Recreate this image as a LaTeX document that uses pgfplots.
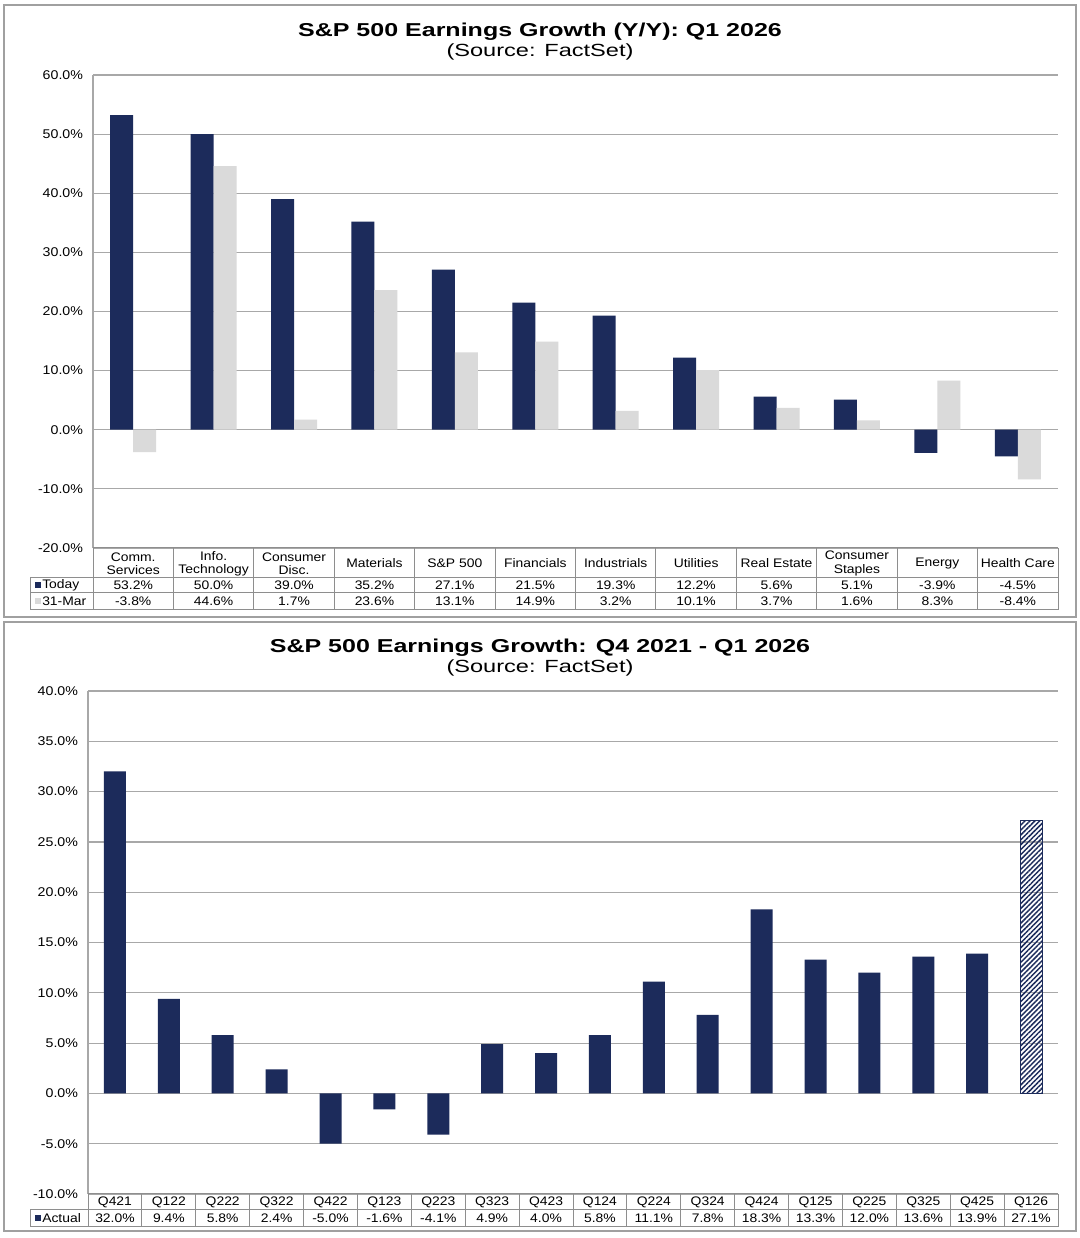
\documentclass[border=0pt]{standalone}
\usepackage{fontspec}
\setmainfont{Liberation Sans}[FakeStretch=1.12]
\newfontfamily\titlefont{Liberation Sans}[FakeStretch=1.34]
\usepackage{pgfplots}
\pgfplotsset{compat=1.18}
\usepackage{pgfplotstable}
\usetikzlibrary{patterns.meta}

\definecolor{navy}{HTML}{1C2B5B}
\definecolor{lgray}{HTML}{DADADA}
\definecolor{gridc}{HTML}{A8A8A8}
\definecolor{tabc}{HTML}{8E8E8E}
\definecolor{framec}{HTML}{A0A0A0}

% sector growth, today vs 31-Mar
\pgfplotstableread{
x today mar
0 53.2 -3.8
1 50.0 44.6
2 39.0 1.7
3 35.2 23.6
4 27.1 13.1
5 21.5 14.9
6 19.3 3.2
7 12.2 10.1
8 5.6 3.7
9 5.1 1.6
10 -3.9 8.3
11 -4.5 -8.4
}\sectors

% quarterly actual growth
\pgfplotstableread{
x actual
0 32.0
1 9.4
2 5.8
3 2.4
4 -5.0
5 -1.6
6 -4.1
7 4.9
8 4.0
9 5.8
10 11.1
11 7.8
12 18.3
13 13.3
14 12.0
15 13.6
16 13.9
17 27.1
}\quarters

\pgfplotsset{
  panel/.style={
    scale only axis,
    anchor=south west,
    axis y line*=left,
    axis x line=none,
    axis line style={draw=gridc, line width=0.9pt},
    ymajorgrids,
    grid style={draw=gridc, line width=0.9pt},
    major tick length=0pt,
    xtick=\empty,
    /pgf/number format/assume math mode=true,
    yticklabel={\pgfmathprintnumber[fixed,fixed zerofill,precision=1]{\tick}\%},
    yticklabel style={font=\fontsize{9.5}{11}\selectfont, xshift=-4pt},
    clip=false,
  },
}

\begin{document}
\begin{tikzpicture}
\path[use as bounding box, fill=white] (0,0) rectangle (810pt,928.5pt);

\begin{axis}[panel,
  at={(69.75pt,517.5pt)},
  width=723.75pt, height=354.75pt,
  xmin=-0.5, xmax=11.5,
  ymin=-20, ymax=60, ytick={-20,-10,...,60},
  ybar=0pt, bar width=17.25pt,
]
\addplot[fill=navy, draw=none] table[x=x, y=today] {\sectors};
\addplot[fill=lgray, draw=none] table[x=x, y=mar] {\sectors};
\end{axis}

\begin{axis}[panel,
  at={(66pt,33pt)},
  width=727.5pt, height=377.25pt,
  xmin=-0.5, xmax=17.5,
  ymin=-10, ymax=40, ytick={-10,-5,...,40},
  ybar, bar width=16.5pt,
]
\addplot[fill=navy, draw=none, bar shift=0pt, restrict x to domain=0:16] table[x=x, y=actual] {\quarters};
\addplot[pattern={Lines[angle=45, distance=2.6pt, line width=1.1pt]}, pattern color=navy, draw=navy, line width=0.5pt, bar shift=0pt, restrict x to domain=17:17] table[x=x, y=actual] {\quarters};
\end{axis}

% frames, titles and data tables in pixel units
\begin{scope}[x=0.75pt, y=-0.75pt, yshift=928.5pt]
\draw[framec, line width=1.4pt] (4,5) rectangle (1076,617);
\draw[framec, line width=1.4pt] (4,622) rectangle (1076,1231);

\node[anchor=base, font=\titlefont\bfseries\fontsize{14}{16}\selectfont] at (540,37) {S\&P 500 Earnings Growth (Y/Y): Q1 2026};
\node[anchor=base, font=\titlefont\fontsize{13.2}{15}\selectfont] at (540,56.5) {(Source: FactSet)};
\node[anchor=base, font=\titlefont\bfseries\fontsize{14}{16}\selectfont] at (540,653) {S\&P 500 Earnings Growth: Q4 2021 - Q1 2026};
\node[anchor=base, font=\titlefont\fontsize{13.2}{15}\selectfont] at (540,672.5) {(Source: FactSet)};

% table 1
\begin{scope}[tabc, line width=0.75pt]
\draw (93,548) -- (1058,548);
\draw (30,578) -- (1058,578);
\draw (30,593) -- (1058,593);
\draw (30,610) -- (1058,610);
\draw (30,578) -- (30,610);
\foreach \i in {0,...,12} \draw ({93+\i*80.4167},548) -- ({93+\i*80.4167},610);
\end{scope}
\begin{scope}[font=\fontsize{9.3}{9.9}\selectfont, text=black]
\foreach \lab [count=\i from 0] in {{Comm.\\Services},{Info.\\Technology},{Consumer\\Disc.},Materials,S\&P 500,Financials,Industrials,Utilities,Real Estate,{Consumer\\Staples},Energy,Health Care}
  \node[align=center, inner sep=0pt] at ({93+(\i+0.5)*80.4167},563.5) {\lab};
\foreach \v [count=\i from 0] in {53.2,50.0,39.0,35.2,27.1,21.5,19.3,12.2,5.6,5.1,-3.9,-4.5}
  \node[inner sep=0pt] at ({93+(\i+0.5)*80.4167},585.5) {\v\%};
\foreach \v [count=\i from 0] in {-3.8,44.6,1.7,23.6,13.1,14.9,3.2,10.1,3.7,1.6,8.3,-8.4}
  \node[inner sep=0pt] at ({93+(\i+0.5)*80.4167},601.5) {\v\%};
\fill[navy] (35,582.5) rectangle (41,588.5);
\node[anchor=west, inner sep=0pt] at (42,585.5) {Today};
\fill[lgray] (35,598.5) rectangle (41,604.5);
\node[anchor=west, inner sep=0pt] at (42,601.5) {31-Mar};
\end{scope}

% table 2
\begin{scope}[tabc, line width=0.75pt]
\draw (88,1194) -- (1058,1194);
\draw (30,1210) -- (1058,1210);
\draw (30,1227) -- (1058,1227);
\draw (30,1210) -- (30,1227);
\foreach \i in {0,...,18} \draw ({88+\i*53.8889},1194) -- ({88+\i*53.8889},1227);
\end{scope}
\begin{scope}[font=\fontsize{9.3}{9.9}\selectfont, text=black]
\foreach \lab [count=\i from 0] in {Q421,Q122,Q222,Q322,Q422,Q123,Q223,Q323,Q423,Q124,Q224,Q324,Q424,Q125,Q225,Q325,Q425,Q126}
  \node[inner sep=0pt] at ({88+(\i+0.5)*53.8889},1202) {\lab};
\foreach \v [count=\i from 0] in {32.0,9.4,5.8,2.4,-5.0,-1.6,-4.1,4.9,4.0,5.8,11.1,7.8,18.3,13.3,12.0,13.6,13.9,27.1}
  \node[inner sep=0pt] at ({88+(\i+0.5)*53.8889},1218.5) {\v\%};
\fill[navy] (35,1215.5) rectangle (41,1221.5);
\node[anchor=west, inner sep=0pt] at (42,1218.5) {Actual};
\end{scope}
\end{scope}
\end{tikzpicture}
\end{document}
